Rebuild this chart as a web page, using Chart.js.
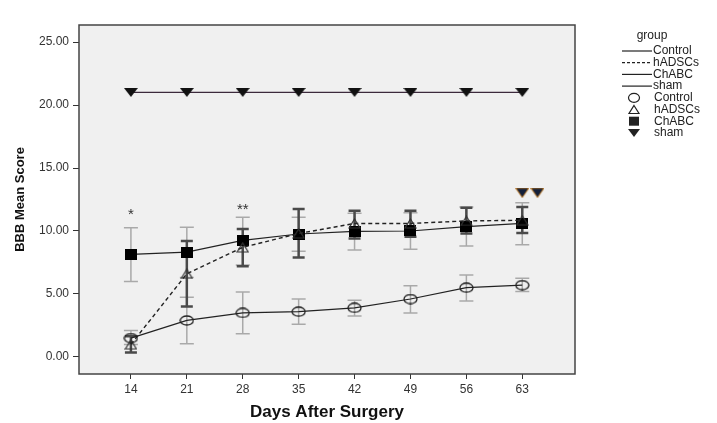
<!DOCTYPE html>
<html>
<head>
<meta charset="utf-8">
<script src="https://cdn.jsdelivr.net/npm/chart.js@4.4.1/dist/chart.umd.min.js"></script>
<style>
  html, body { margin: 0; padding: 0; background: #fff; }
  #wrap { width: 717px; height: 423px; }
</style>
</head>
<body>
<div id="wrap"><canvas id="chart"></canvas></div>
<script>
// Days after surgery and the mean BBB score per group
var days = [14, 21, 28, 35, 42, 49, 56, 63];
var yTicks = [0, 5, 10, 15, 20, 25];

var control = [1.5, 2.9, 3.5, 3.6, 3.9, 4.6, 5.5, 5.7];
var hadscs = [1.0, 6.6, 8.7, 9.8, 10.6, 10.6, 10.8, 10.85];
var chabc = [8.15, 8.33, 9.25, 9.76, 9.97, 10.0, 10.35, 10.6];
var sham = [21, 21, 21, 21, 21, 21, 21, 21];

// error bar ends (low / high)
var controlLow = [1.0, 1.05, 1.85, 2.6, 3.25, 3.5, 4.45, 5.2];
var controlHigh = [2.1, 4.75, 5.15, 4.6, 4.5, 5.65, 6.5, 6.25];
var hadscsLow = [0.35, 4.0, 7.2, 7.9, 9.4, 9.55, 9.8, 9.85];
var hadscsHigh = [1.65, 9.2, 10.15, 11.75, 11.6, 11.6, 11.85, 11.9];
var chabcLow = [6.0, 6.3, 7.3, 8.4, 8.5, 8.55, 8.8, 8.9];
var chabcHigh = [10.25, 10.3, 11.1, 11.1, 11.4, 11.45, 11.9, 12.25];

// significance marks
var sigX = [63, 64.9];
var sigY = [13.0, 13.0];
var starX = [14, 28];
var starY = [11.5, 11.9];
var starText = ['*', '**'];

function pts(xs, ys) {
    return xs.map(function (x, i) { return { x: x, y: ys[i] }; });
}

// small canvases used as point styles (the markers are a bit wider than tall)
function marker(w, h, draw) {
    var c = document.createElement('canvas');
    c.width = w; c.height = h;
    draw(c.getContext('2d'), w, h);
    return c;
}
var ellipseMark = marker(15, 11, function (ctx, w, h) {
    ctx.strokeStyle = '#222'; ctx.lineWidth = 1.3;
    ctx.beginPath(); ctx.ellipse(w / 2, h / 2, w / 2 - 1, h / 2 - 1, 0, 0, Math.PI * 2); ctx.stroke();
});
var triMark = marker(13, 11, function (ctx, w, h) {
    ctx.strokeStyle = '#333'; ctx.lineWidth = 1.2;
    ctx.beginPath(); ctx.moveTo(w / 2, 1); ctx.lineTo(w - 1, h - 1); ctx.lineTo(1, h - 1); ctx.closePath(); ctx.stroke();
});
var squareMark = marker(12, 11, function (ctx, w, h) {
    ctx.fillStyle = '#000'; ctx.fillRect(0, 0, w, h);
});
var downMark = marker(14, 9, function (ctx, w, h) {
    ctx.fillStyle = '#111';
    ctx.beginPath(); ctx.moveTo(0, 0); ctx.lineTo(w, 0); ctx.lineTo(w / 2, h); ctx.closePath(); ctx.fill();
});
var sigMark = marker(14, 10, function (ctx, w, h) {
    ctx.fillStyle = '#b07020';
    ctx.beginPath(); ctx.moveTo(0, 0); ctx.lineTo(w, 0); ctx.lineTo(w / 2, h); ctx.closePath(); ctx.fill();
    ctx.fillStyle = '#14203a';
    ctx.beginPath(); ctx.moveTo(1.5, 0.5); ctx.lineTo(w - 1.5, 0.5); ctx.lineTo(w / 2, h - 1.5); ctx.closePath(); ctx.fill();
});

var errorSets = [
    { low: chabcLow, high: chabcHigh, color: '#a9a9a9', width: 1.5, cap: 7 },
    { low: controlLow, high: controlHigh, color: '#a9a9a9', width: 1.5, cap: 7 },
    { low: hadscsLow, high: hadscsHigh, color: '#4a4a4a', width: 2.5, cap: 6 }
];

var plotBox = {
    id: 'plotBox',
    beforeDraw: function (chart) {
        var a = chart.chartArea, ctx = chart.ctx;
        ctx.save();
        ctx.fillStyle = '#f0f0f0';
        ctx.fillRect(a.left, a.top, a.right - a.left, a.bottom - a.top);
        ctx.restore();
    },
    beforeDatasetsDraw: function (chart) {
        var ctx = chart.ctx, xs = chart.scales.x, ys = chart.scales.y;
        ctx.save();
        errorSets.forEach(function (s) {
            ctx.strokeStyle = s.color;
            ctx.lineWidth = s.width;
            days.forEach(function (d, i) {
                var px = xs.getPixelForValue(d);
                var lo = ys.getPixelForValue(s.low[i]);
                var hi = ys.getPixelForValue(s.high[i]);
                ctx.beginPath();
                ctx.moveTo(px, lo); ctx.lineTo(px, hi);
                ctx.moveTo(px - s.cap, lo); ctx.lineTo(px + s.cap, lo);
                ctx.moveTo(px - s.cap, hi); ctx.lineTo(px + s.cap, hi);
                ctx.stroke();
            });
        });
        ctx.restore();
    },
    afterDatasetsDraw: function (chart) {
        var a = chart.chartArea, ctx = chart.ctx, xs = chart.scales.x, ys = chart.scales.y;
        ctx.save();
        ctx.strokeStyle = '#444';
        ctx.lineWidth = 1.5;
        ctx.strokeRect(a.left, a.top, a.right - a.left, a.bottom - a.top);
        ctx.fillStyle = '#333';
        ctx.font = '15px "Liberation Sans", Arial';
        ctx.textAlign = 'center';
        ctx.textBaseline = 'middle';
        starX.forEach(function (x, i) {
            ctx.fillText(starText[i], xs.getPixelForValue(x), ys.getPixelForValue(starY[i]) + 3);
        });
        ctx.restore();
    }
};

// legend on the right: four line samples then four marker samples
var legendLines = [
    { label: 'Control', dash: [] },
    { label: 'hADSCs', dash: [3, 2] },
    { label: 'ChABC', dash: [] },
    { label: 'sham', dash: [] }
];
var legendMarks = [
    { label: 'Control', style: 'circle' },
    { label: 'hADSCs', style: 'triangle' },
    { label: 'ChABC', style: 'square' },
    { label: 'sham', style: 'down' }
];

var legendBox = {
    id: 'legendBox',
    afterDraw: function (chart) {
        var ctx = chart.ctx;
        ctx.save();
        ctx.fillStyle = '#222';
        ctx.font = '12px "Liberation Sans", Arial';
        ctx.textBaseline = 'middle';
        ctx.textAlign = 'center';
        ctx.fillText('group', 652, 36);
        ctx.textAlign = 'left';
        var y = 51, step = 11.7;
        legendLines.forEach(function (it) {
            ctx.strokeStyle = '#222';
            ctx.lineWidth = 1.2;
            ctx.setLineDash(it.dash);
            ctx.beginPath();
            ctx.moveTo(622, y); ctx.lineTo(652, y);
            ctx.stroke();
            ctx.setLineDash([]);
            ctx.fillText(it.label, 653, y);
            y += step;
        });
        legendMarks.forEach(function (it) {
            var cx = 634;
            ctx.strokeStyle = '#222';
            ctx.fillStyle = '#222';
            ctx.lineWidth = 1.2;
            ctx.beginPath();
            if (it.style === 'circle') {
                ctx.ellipse(cx, y, 5.5, 4.5, 0, 0, Math.PI * 2);
                ctx.stroke();
            } else if (it.style === 'triangle') {
                ctx.moveTo(cx, y - 4); ctx.lineTo(cx + 5, y + 4); ctx.lineTo(cx - 5, y + 4); ctx.closePath();
                ctx.stroke();
            } else if (it.style === 'square') {
                ctx.fillRect(cx - 5, y - 4.5, 10, 9);
            } else {
                ctx.moveTo(cx - 6, y - 4); ctx.lineTo(cx + 6, y - 4); ctx.lineTo(cx, y + 4); ctx.closePath();
                ctx.fill();
            }
            ctx.fillStyle = '#222';
            ctx.fillText(it.label, 654, y);
            y += step;
        });
        ctx.restore();
    }
};

var tickFont = { family: '"Liberation Sans", Arial', size: 12 };

new Chart(document.getElementById('chart'), {
    type: 'line',
    data: {
        datasets: [
            {
                label: 'sham',
                data: pts(days, sham),
                borderColor: '#3c2a3c',
                borderWidth: 1.2,
                pointStyle: downMark
            },
            {
                label: 'Control',
                data: pts(days, control),
                borderColor: '#222',
                borderWidth: 1.2,
                pointStyle: ellipseMark
            },
            {
                label: 'hADSCs',
                data: pts(days, hadscs),
                borderColor: '#222',
                borderWidth: 1.4,
                borderDash: [4, 3],
                pointStyle: triMark
            },
            {
                label: 'ChABC',
                data: pts(days, chabc),
                borderColor: '#222',
                borderWidth: 1.2,
                pointStyle: squareMark
            },
            {
                label: 'sig',
                data: pts(sigX, sigY),
                showLine: false,
                pointStyle: sigMark
            }
        ]
    },
    options: {
        responsive: true,
        maintainAspectRatio: false,
        animation: false,
        layout: { padding: { top: 25, right: 142, bottom: 0, left: 0 } },
        plugins: {
            legend: { display: false },
            tooltip: { enabled: false }
        },
        scales: {
            x: {
                type: 'linear',
                min: 7.5,
                max: 69.6,
                afterBuildTicks: function (s) { s.ticks = days.map(function (v) { return { value: v }; }); },
                afterFit: function (s) { s.height = 49; },
                grid: { drawOnChartArea: false, drawTicks: true, tickLength: 5, color: '#333' },
                border: { display: false },
                ticks: { font: tickFont, color: '#333', padding: 3, maxRotation: 0 },
                title: {
                    display: true,
                    text: 'Days After Surgery',
                    color: '#111',
                    font: { family: '"Liberation Sans", Arial', size: 17, weight: 'bold' },
                    padding: { top: 7, bottom: 0 }
                }
            },
            y: {
                type: 'linear',
                min: -1.35,
                max: 26.35,
                afterBuildTicks: function (s) { s.ticks = yTicks.map(function (v) { return { value: v }; }); },
                afterFit: function (s) { s.width = 79; },
                grid: { drawOnChartArea: false, drawTicks: true, tickLength: 6, color: '#333' },
                border: { display: false },
                ticks: {
                    font: tickFont,
                    color: '#333',
                    padding: 4,
                    callback: function (v) { return Number(v).toFixed(2); }
                },
                title: {
                    display: true,
                    text: 'BBB Mean Score',
                    color: '#111',
                    font: { family: '"Liberation Sans Narrow", "Liberation Sans", Arial', size: 13, weight: 'bold' },
                    padding: { top: 13, bottom: 0 }
                }
            }
        }
    },
    plugins: [plotBox, legendBox]
});
</script>
</body>
</html>
